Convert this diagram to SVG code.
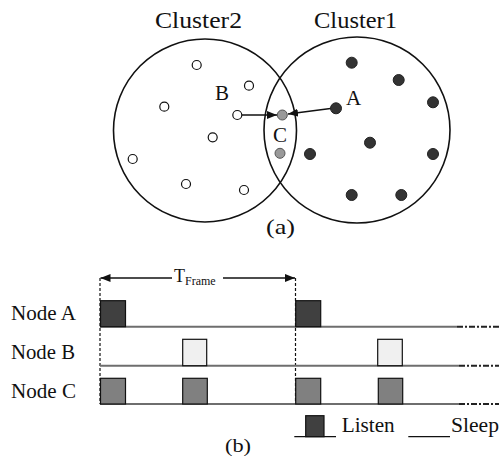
<svg xmlns="http://www.w3.org/2000/svg" width="499" height="457" viewBox="0 0 499 457">
  <style>
    .lbl { font-family: "Liberation Serif", "Times New Roman", serif; fill: #111; }
    .cluster { fill: none; stroke: #111; stroke-width: 1.6; }
    .hollow { fill: #fff; stroke: #111; stroke-width: 1.2; }
    .dark { fill: #333; stroke: #222; stroke-width: 1; }
    .mid { fill: #999; stroke: #555; stroke-width: 1; }
    .edge { stroke: #111; stroke-width: 1.4; fill: none; }
    .track { stroke: #6e6e6e; stroke-width: 2; }
    .tail { stroke: #222; stroke-width: 2; stroke-dasharray: 6 2 2 2; }
    .guide { stroke: #111; stroke-width: 1.2; stroke-dasharray: 3 2; }
    .slot { stroke: #111; stroke-width: 1.2; }
  </style>
  <defs>
    <marker id="arr" viewBox="0 0 10 8" refX="10" refY="4" markerWidth="10" markerHeight="8" markerUnits="userSpaceOnUse" orient="auto">
      <path d="M0,0 L10,4 L0,8 Z" fill="#111"/>
    </marker>
  </defs>

  <!-- (a) two overlapping clusters -->
  <g id="cluster2">
    <circle class="cluster" cx="205" cy="130.5" r="91.5"/>
    <text class="lbl" x="155" y="28" font-size="23" textLength="87" lengthAdjust="spacingAndGlyphs">Cluster2</text>
    <circle class="hollow" cx="196.7" cy="65" r="4.5"/>
    <circle class="hollow" cx="249" cy="85.7" r="4.5"/>
    <circle class="hollow" cx="164.3" cy="106.7" r="4.5"/>
    <circle class="hollow" cx="212.7" cy="137.3" r="4.5"/>
    <circle class="hollow" cx="132.7" cy="159" r="4.5"/>
    <circle class="hollow" cx="186" cy="184" r="4.5"/>
    <circle class="hollow" cx="244" cy="190" r="4.5"/>
  </g>
  <g id="cluster1">
    <circle class="cluster" cx="357" cy="130" r="93"/>
    <text class="lbl" x="314" y="28" font-size="23" textLength="83" lengthAdjust="spacingAndGlyphs">Cluster1</text>
    <circle class="dark" cx="351.7" cy="62.7" r="5.5"/>
    <circle class="dark" cx="398.7" cy="80" r="5.5"/>
    <circle class="dark" cx="433" cy="102.3" r="5.5"/>
    <circle class="dark" cx="370" cy="142.7" r="5.5"/>
    <circle class="dark" cx="310" cy="154" r="5.5"/>
    <circle class="dark" cx="433" cy="154" r="5.5"/>
    <circle class="dark" cx="351.7" cy="195" r="5.5"/>
    <circle class="dark" cx="401.3" cy="195" r="5.5"/>
  </g>
  <g id="node-a">
    <circle class="dark" cx="336" cy="108.3" r="5.5"/>
    <text class="lbl" x="346" y="105" font-size="21">A</text>
  </g>
  <g id="node-b">
    <circle class="hollow" cx="237.3" cy="115" r="4.5"/>
    <text class="lbl" x="215" y="100" font-size="21">B</text>
  </g>
  <g id="node-c">
    <circle class="mid" cx="282.3" cy="115" r="5"/>
    <circle class="mid" cx="280" cy="153.3" r="5"/>
    <text class="lbl" x="273" y="141.7" font-size="21">C</text>
  </g>
  <g id="connectors">
    <line class="edge" x1="242" y1="115" x2="277" y2="115" marker-end="url(#arr)"/>
    <line class="edge" x1="330.5" y1="108.5" x2="288" y2="114" marker-end="url(#arr)"/>
  </g>
  <text class="lbl" x="266" y="234" font-size="22" textLength="29" lengthAdjust="spacingAndGlyphs">(a)</text>

  <!-- (b) listen/sleep schedule -->
  <g id="frame">
    <line class="guide" x1="100" y1="278" x2="100" y2="404"/>
    <line class="guide" x1="295.5" y1="278" x2="295.5" y2="404"/>
    <line class="edge" x1="172" y1="278" x2="100.5" y2="278" marker-end="url(#arr)"/>
    <line class="edge" x1="223" y1="278" x2="295" y2="278" marker-end="url(#arr)"/>
    <text class="lbl" x="174" y="282" font-size="18">T<tspan font-size="12" dy="3">Frame</tspan></text>
  </g>
  <g id="row-a">
    <text class="lbl" x="11" y="320" font-size="21" textLength="65" lengthAdjust="spacingAndGlyphs">Node A</text>
    <line class="track" x1="100" y1="326.7" x2="457" y2="326.7"/>
    <line class="tail" x1="457" y1="326.7" x2="499" y2="326.7"/>
    <rect class="slot" x="100.5" y="300.7" width="25" height="26" fill="#404040"/>
    <rect class="slot" x="295.7" y="300.7" width="25" height="26" fill="#404040"/>
  </g>
  <g id="row-b">
    <text class="lbl" x="11" y="359.3" font-size="21" textLength="64" lengthAdjust="spacingAndGlyphs">Node B</text>
    <line class="track" x1="100" y1="365.7" x2="459" y2="365.7"/>
    <line class="tail" x1="459" y1="365.7" x2="499" y2="365.7"/>
    <rect class="slot" x="182.7" y="339.3" width="24" height="26.4" fill="#f0f0f0"/>
    <rect class="slot" x="377.7" y="339.3" width="24.6" height="26.4" fill="#f0f0f0"/>
  </g>
  <g id="row-c">
    <text class="lbl" x="11" y="398.3" font-size="21" textLength="65" lengthAdjust="spacingAndGlyphs">Node C</text>
    <line class="track" x1="100" y1="404" x2="459" y2="404"/>
    <line class="tail" x1="459" y1="404" x2="499" y2="404"/>
    <rect class="slot" x="100.5" y="378.3" width="25" height="25.7" fill="#808080"/>
    <rect class="slot" x="182.7" y="378.3" width="24.6" height="25.7" fill="#808080"/>
    <rect class="slot" x="295.7" y="378.3" width="25" height="25.7" fill="#808080"/>
    <rect class="slot" x="378.3" y="378.3" width="24.4" height="25.7" fill="#808080"/>
  </g>
  <g id="legend">
    <line stroke="#111" stroke-width="1.3" x1="294.3" y1="436.7" x2="336" y2="436.7"/>
    <rect class="slot" x="305.7" y="415.7" width="18.3" height="21" fill="#404040"/>
    <text class="lbl" x="341.7" y="432" font-size="20" textLength="53" lengthAdjust="spacingAndGlyphs">Listen</text>
    <line stroke="#111" stroke-width="1.3" x1="408.3" y1="436.7" x2="450" y2="436.7"/>
    <text class="lbl" x="451" y="432" font-size="20" textLength="48" lengthAdjust="spacingAndGlyphs">Sleep</text>
  </g>
  <text class="lbl" x="225" y="451.7" font-size="18" textLength="26" lengthAdjust="spacingAndGlyphs">(b)</text>
</svg>
